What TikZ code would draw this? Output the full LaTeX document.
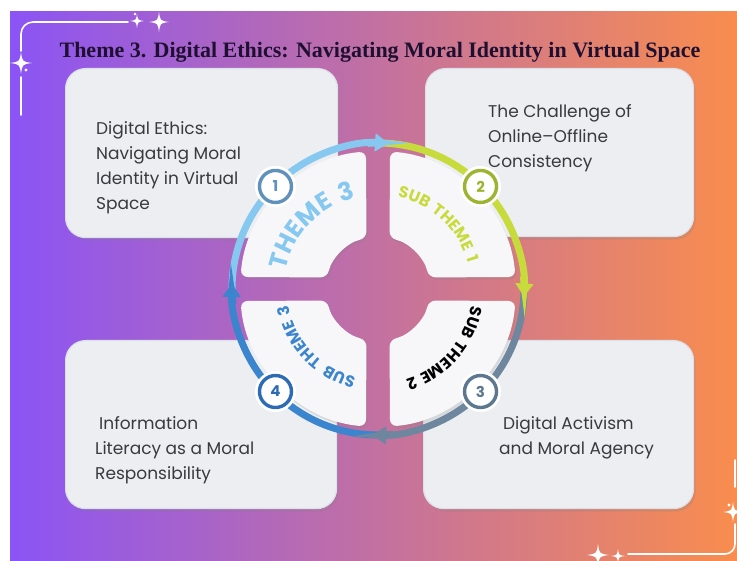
\documentclass[tikz,border=0pt]{standalone}
\usepackage{fontspec}
\setmainfont{Poppins}
\newfontfamily\titlefont{Liberation Serif}
\newfontfamily\arcfont[LetterSpace=12]{Poppins}
\usetikzlibrary{arrows.meta,positioning,calc,shadows,decorations.text}
\definecolor{bgleft}{HTML}{8B54F5}
\definecolor{bgmid}{HTML}{C869A4}
\definecolor{bgright}{HTML}{F98D4E}
\definecolor{titleink}{HTML}{1E1030}
\definecolor{bodyink}{HTML}{383A40}
\definecolor{boxfill}{HTML}{ECEEF2}
\definecolor{boxrim}{HTML}{DCE0E8}
\definecolor{tilefill}{HTML}{F7F7F9}
\definecolor{ringsky}{HTML}{86C8F0}
\definecolor{ringlime}{HTML}{C7DB3D}
\definecolor{ringslate}{HTML}{6F879E}
\definecolor{ringazure}{HTML}{3A85CD}
\definecolor{dotsky}{HTML}{5F91BB}
\definecolor{dotlime}{HTML}{9DB431}
\definecolor{dotslate}{HTML}{5E7790}
\definecolor{dotazure}{HTML}{2D6CB4}

\tikzset{
  infobox/.style={draw=boxrim,line width=1.2pt,fill=boxfill,rounded corners=20pt,
    minimum width=270pt,minimum height=168pt,anchor=north west,
    drop shadow={shadow xshift=2pt,shadow yshift=-3pt,opacity=.22}},
  boxtext/.style={inner sep=0pt,align=left,text=bodyink,font=\fontsize{17}{25}\selectfont},
  tile/.style={fill=tilefill,rounded corners=7pt,
    drop shadow={shadow xshift=1.5pt,shadow yshift=-2.5pt,opacity=.2}},
  ringseg/.style={line width=7pt,draw=#1,-{Triangle[width=17pt,length=13pt]}},
  numdot/.style={circle,minimum size=32pt,inner sep=0pt,fill=white,draw=#1,line width=3.4pt,
    text=#1,font=\bfseries\fontsize{15}{15}\selectfont,preaction={draw=white,line width=9pt}},
  deco/.style={white,line width=1.6pt,line cap=round},
  sparkle/.pic={\fill[white] (0,1) .. controls (0.12,0.12) .. (1,0) .. controls (0.12,-0.12) .. (0,-1)
    .. controls (-0.12,-0.12) .. (-1,0) .. controls (-0.12,0.12) .. cycle;}
}

\begin{document}
\begin{tikzpicture}[x=1pt,y=1pt]
  \useasboundingbox (0,0) rectangle (737,561);
  \fill[white] (0,0) rectangle (737,561);
  \fill[left color=bgleft,middle color=bgmid,right color=bgright] (10,0) rectangle (737,549);

  % corner ornaments
  \draw[deco] (21,446) -- (21,484);
  \draw[deco] (21,510) -- (21,527) arc[start angle=180,end angle=90,radius=12] -- (128,539);
  \pic[scale=11] at (21,498) {sparkle};
  \pic[scale=7] at (137,540) {sparkle};
  \pic[scale=10] at (159,539) {sparkle};
  \fill[white] (26,491) circle (1.6) (135,547) circle (1.4);
  \draw[deco] (735,74) -- (735,101);
  \draw[deco] (735,37) -- (735,17) arc[start angle=0,end angle=-90,radius=10] -- (628,7);
  \pic[scale=10] at (733,49) {sparkle};
  \pic[scale=11] at (598,6) {sparkle};
  \pic[scale=7] at (618,5) {sparkle};
  \fill[white] (729,56) circle (1.6);

  \node[font=\titlefont\bfseries\fontsize{22}{22}\selectfont,text=titleink,anchor=base] (title) at (380,503)
    {Theme 3. Digital Ethics: Navigating Moral Identity in Virtual Space};

  % the four text cards
  \node[infobox,minimum width=272pt,minimum height=169pt] (ethics) at (65,493) {};
  \node[infobox,minimum width=268pt] (consist) at (425,493) {};
  \node[infobox,minimum width=271pt] (literacy) at (65,221) {};
  \node[infobox] (activism) at (423,221) {};
  \node[boxtext,below right=53pt and 31pt of ethics.north west] (ethicsTxt)
    {Digital Ethics:\\Navigating Moral\\Identity in Virtual\\Space};
  \node[boxtext,below right=36pt and 63pt of consist.north west] (consistTxt)
    {The Challenge of\\Online--Offline\\Consistency};
  \node[boxtext,below right=76pt and 30pt of literacy.north west] (literacyTxt)
    {\hspace*{4pt}Information\\Literacy as a Moral\\Responsibility};
  \node[boxtext,below right=76pt and 76pt of activism.north west] (activismTxt)
    {\hspace*{4pt}Digital Activism\\and Moral Agency};

  % cycle in the middle
  \coordinate (cen) at (378,272);
  \foreach \a in {0,90,180,270}
    \fill[tile] ($(cen)+(\a+5:138)$) arc[start angle=\a+5,end angle=\a+85,radius=138]
      -- ($(cen)+(\a+77.2:52)$) arc[start angle=\a+77.2,end angle=\a+12.8,radius=52] -- cycle;
  \foreach \col/\from/\to in {ringsky/182/86,ringlime/90/-3,ringslate/1/-92,ringazure/-88/-182}
    \draw[ringseg=\col] ($(cen)+(\from:146)$) arc[start angle=\from,end angle=\to,radius=146];
  \foreach \col/\to in {ringsky/86,ringlime/-3,ringslate/-92,ringazure/-182}
    \draw[ringseg=\col] ($(cen)+(\to+8:146)$) arc[start angle=\to+8,end angle=\to,radius=146];

  \path[decorate,decoration={text along path,text align=center,
    text={|\arcfont\bfseries\fontsize{25}{25}\selectfont\color{ringsky}|THEME 3}}]
    ($(cen)+(184:94)$) arc[start angle=184,end angle=88,radius=94];
  \path[decorate,decoration={text along path,text align=center,
    text={|\arcfont\bfseries\fontsize{16}{16}\selectfont\color{ringlime}|SUB THEME 1}}]
    ($(cen)+(94:94)$) arc[start angle=94,end angle=0,radius=94];
  \path[decorate,decoration={text along path,text align=center,
    text={|\arcfont\bfseries\fontsize{16}{16}\selectfont\color{black}|SUB THEME 2}}]
    ($(cen)+(5.5:95)$) arc[start angle=5.5,end angle=-88.5,radius=95];
  \path[decorate,decoration={text along path,text align=center,
    text={|\arcfont\bfseries\fontsize{16}{16}\selectfont\color{ringazure}|SUB THEME 3}}]
    ($(cen)+(-90:91)$) arc[start angle=-90,end angle=-184,radius=91];

  \node[numdot=dotsky] (n1) at ($(cen)+(135:145)$) {1};
  \node[numdot=dotlime] (n2) at ($(cen)+(45:145)$) {2};
  \node[numdot=dotslate] (n3) at ($(cen)+(-45:145)$) {3};
  \node[numdot=dotazure] (n4) at ($(cen)+(-135:145)$) {4};
\end{tikzpicture}
\end{document}
